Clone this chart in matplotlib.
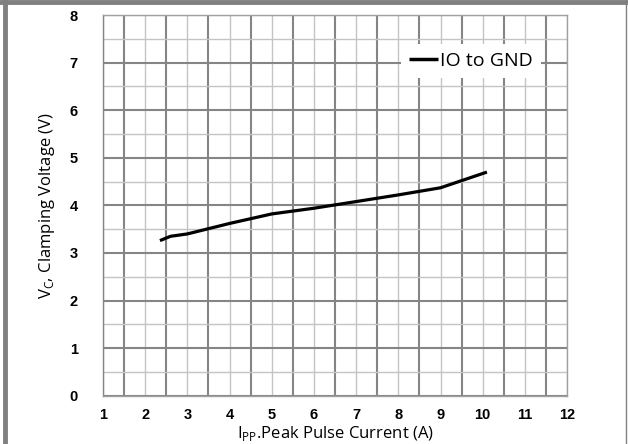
import numpy as np
import matplotlib
matplotlib.use('Agg')
import matplotlib.pyplot as plt
from matplotlib.lines import Line2D

# Данные: ток (A) и напряжение ограничения (V)
ipp = [2.35, 2.6, 3.0, 4.0, 5.0, 6.0, 7.0, 8.0, 9.0, 10.1]
vc = [3.26, 3.35, 3.40, 3.62, 3.82, 3.94, 4.08, 4.22, 4.37, 4.70]
series_name = 'IO to GND'
x_ticks = list(range(1, 13))
y_ticks = list(range(0, 9))

plt.rcParams['font.family'] = ['Open Sans', 'DejaVu Sans']
plt.rcParams['mathtext.fontset'] = 'custom'
plt.rcParams['mathtext.rm'] = 'Open Sans'

fig = plt.figure(figsize=(6.28, 4.44), dpi=100)
ax = fig.add_axes([0.164, 0.1088, 0.739, 0.8573])

ax.set_xlim(1, 12)
ax.set_ylim(0, 8)

# сетка: тёмные и светлые линии
for xv in np.arange(1.0, 12.01, 0.5):
    dark = (xv % 1) == 0.5
    ax.axvline(xv, color='#858585' if dark else '#c4c4c4',
               lw=1.5 if dark else 1.0, zorder=1)
for yv in np.arange(0.0, 8.01, 0.5):
    dark = (yv % 1) == 0
    ax.axhline(yv, color='#858585' if dark else '#c4c4c4',
               lw=1.5 if dark else 1.0, zorder=1)

ax.plot(ipp, vc, color='black', lw=2.3, label=series_name, zorder=3,
        solid_capstyle='butt')

for s in ax.spines.values():
    s.set_color('#a0a0a0')
    s.set_linewidth(1.0)
ax.spines['left'].set_color('#858585')

ax.set_xticks(x_ticks)
ax.set_yticks(y_ticks)
ax.tick_params(length=0)
ax.tick_params(axis='y', pad=18)
ax.tick_params(axis='x', pad=9)
for lab in ax.get_xticklabels() + ax.get_yticklabels():
    lab.set_fontfamily('Liberation Sans')
    lab.set_fontweight('bold')
    lab.set_fontsize(10.5)

ax.set_ylabel(r'V$_\mathregular{C}$, Clamping Voltage (V)', fontsize=12, labelpad=9)
ax.set_xlabel(r'I$_\mathregular{PP}$.Peak Pulse Current (A)', fontsize=12, labelpad=1)

leg = ax.legend(loc='center', bbox_to_anchor=(471 / 628, 1 - 61 / 444),
                bbox_transform=fig.transFigure, frameon=True, fontsize=14,
                handlelength=1.5, handletextpad=0.12, borderpad=0.4)
leg.get_frame().set_edgecolor('none')
leg.get_frame().set_facecolor('white')
leg.get_frame().set_alpha(1)
leg.get_frame().set_boxstyle('square', pad=0)
for h in leg.get_lines():
    h.set_linewidth(2.5)

# рамка вокруг картинки
fig.add_artist(Line2D([5 / 628, 5 / 628], [0, 1], color='#808080', lw=3.5,
                      transform=fig.transFigure))
fig.add_artist(Line2D([0, 1], [1 - 2 / 444, 1 - 2 / 444], color='#808080', lw=3.5,
                      transform=fig.transFigure))
fig.add_artist(Line2D([625.5 / 628, 625.5 / 628], [0, 1], color='#808080', lw=1.0,
                      transform=fig.transFigure))

fig.savefig('out.png', dpi=100)
